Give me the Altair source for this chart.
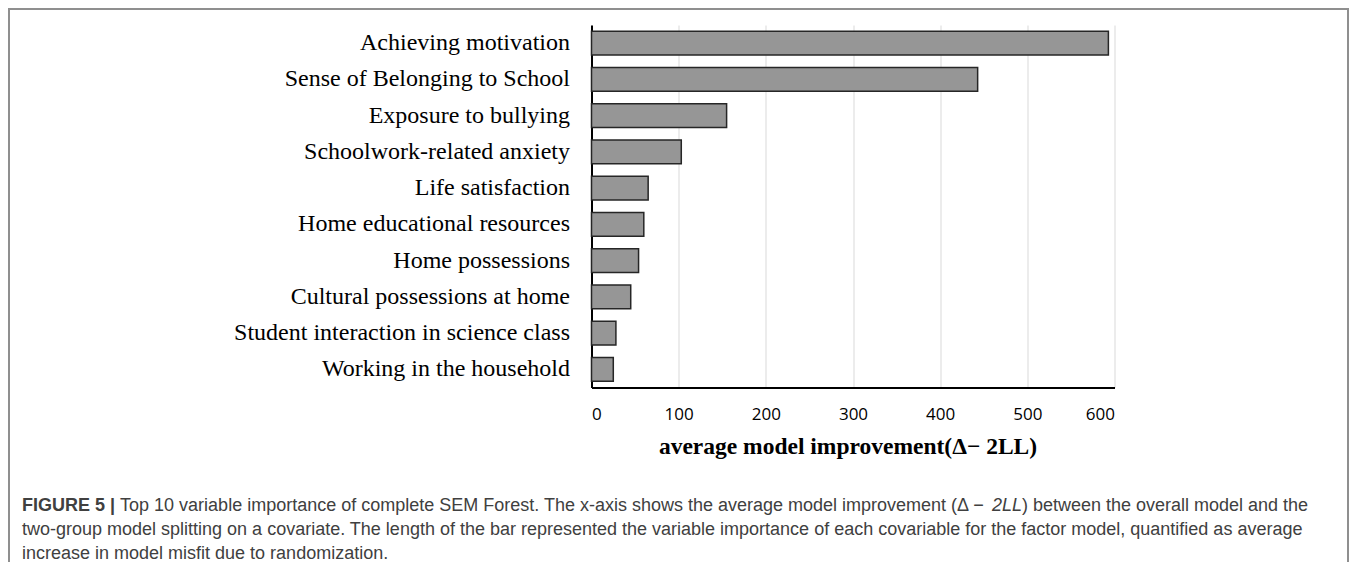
import altair as alt
import pandas as pd

categories = [
    "Achieving motivation",
    "Sense of Belonging to School",
    "Exposure to bullying",
    "Schoolwork-related anxiety",
    "Life satisfaction",
    "Home educational resources ",
    "Home possessions",
    "Cultural possessions at home ",
    "Student interaction in science class",
    "Working in the household",
]
values = [593, 443, 155, 103, 65, 60, 54, 45, 28, 25]
x_ticks = [0, 100, 200, 300, 400, 500, 600]
x_title = "average model improvement(\u0394\u2212 2LL)"

caption_bold = "FIGURE 5 |"
caption_line1a = ("Top 10 variable importance of complete SEM Forest. The x-axis shows the average model "
                  "improvement (\u0394 \u2212 ")
caption_line1b = "2LL"
caption_line1c = ") between the overall model and the"
caption_line2 = ("two-group model splitting on a covariate. The length of the bar represented the variable "
                 "importance of each covariable for the factor model, quantified as average")
caption_line3 = "increase in model misfit due to randomization."

df = pd.DataFrame({"variable": categories, "importance": values})
one = pd.DataFrame({"k": [0]})

W, H = 523, 362.5

bars = alt.Chart(df).mark_bar(
    color="#969696", stroke="#262626", strokeWidth=1.5
).encode(
    x=alt.X("importance:Q",
            scale=alt.Scale(domain=[0, 600], nice=False),
            axis=alt.Axis(values=x_ticks, title=x_title, grid=True, gridColor="#d9d9d9",
                          gridWidth=1, domainColor="#000000", domainWidth=2,
                          ticks=False, tickSize=0, labelPadding=19,
                          labelFont="Open Sans", labelFontSize=17, labelColor="#000000",
                          titleFont="Liberation Serif", titleFontSize=23.5, titleFontWeight="bold",
                          titleColor="#000000", titleBaseline="alphabetic", titleY=65.5, titleX=256)),
    y=alt.Y("variable:N", sort=categories,
            scale=alt.Scale(paddingInner=0.34, paddingOuter=0.17),
            axis=alt.Axis(title=None, ticks=False, tickSize=0, labelPadding=22,
                          domainColor="#000000", domainWidth=2,
                          labelFont="Liberation Serif", labelFontSize=24, labelColor="#000000",
                          labelLimit=0)),
)

border_color = "#8f8f8f"
left_border = alt.Chart(one).mark_rule(color=border_color, strokeWidth=2).encode(
    x=alt.value(-582.5), y=alt.value(-16), y2=alt.value(540))
right_border = alt.Chart(one).mark_rule(color=border_color, strokeWidth=2).encode(
    x=alt.value(756.5), y=alt.value(-16), y2=alt.value(540))
top_border = alt.Chart(one).mark_rule(color=border_color, strokeWidth=2).encode(
    x=alt.value(-583.5), x2=alt.value(757.5), y=alt.value(-16))

cap_font = "Liberation Sans"
cap_size = 18
cap_color = "#404040"

def cap(text, x, y, bold=False, italic=False):
    return alt.Chart(one).mark_text(
        align="left", baseline="alphabetic", font=cap_font, fontSize=cap_size,
        color=cap_color, fontWeight="bold" if bold else "normal",
        fontStyle="italic" if italic else "normal"
    ).encode(x=alt.value(x), y=alt.value(y), text=alt.value(text))

x0 = -569.5
xa = x0 + 5.448 * cap_size
xb = xa + 48.436 * cap_size
xc = xb + 1.668 * cap_size

c0 = cap(caption_bold, x0, 486, bold=True)
c1a = cap(caption_line1a, xa, 486)
c1b = cap(caption_line1b, xb, 486, italic=True)
c1c = cap(caption_line1c, xc, 486)
c2 = cap(caption_line2, x0, 510)
c3 = cap(caption_line3, x0, 534)

chart = alt.layer(bars, left_border, right_border, top_border,
                  c0, c1a, c1b, c1c, c2, c3).properties(
    width=W, height=H,
    autosize=alt.AutoSizeParams(type="none"),
    padding={"left": 583.5, "top": 17, "right": 234.5, "bottom": 174.5},
).configure_view(stroke=None)

chart.save("out.html", embed_options={"renderer": "svg", "actions": False})
